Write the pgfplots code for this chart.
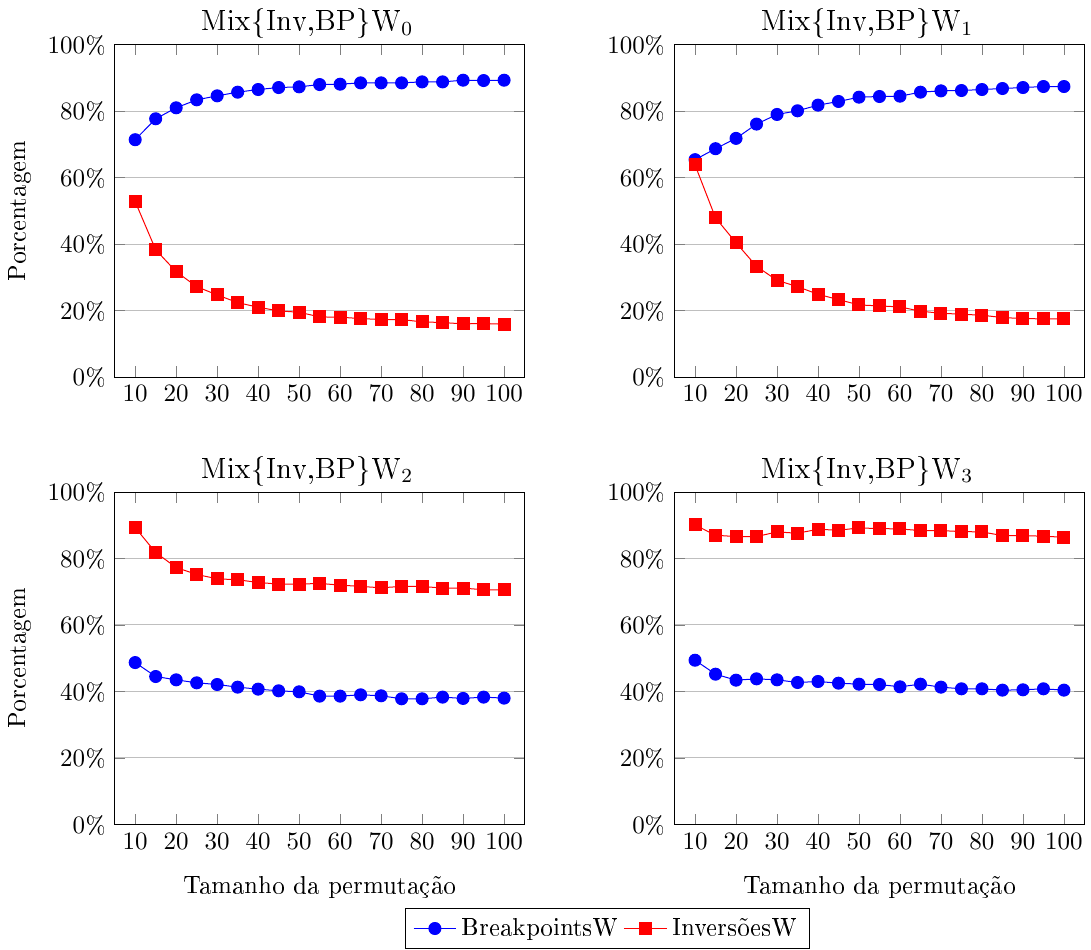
\documentclass[border=0pt]{standalone}
\usepackage[T1]{fontenc}
\usepackage{pgfplots}
\pgfplotsset{compat=1.18}
\usepgfplotslibrary{groupplots}

% x: tamanho da permutacao; b: BreakpointsW; i: InversoesW
\pgfplotstableread{
x  b    i
10 71.4 52.8
15 77.7 38.3
20 81.0 31.7
25 83.4 27.2
30 84.6 24.7
35 85.7 22.4
40 86.5 21.0
45 87.1 19.9
50 87.3 19.5
55 88.0 18.1
60 88.1 18.0
65 88.5 17.6
70 88.5 17.3
75 88.5 17.3
80 88.8 16.6
85 88.8 16.4
90 89.3 16.0
95 89.2 16.1
100 89.3 15.9
}\wzero
\pgfplotstableread{
x  b    i
10 65.4 63.8
15 68.7 47.9
20 71.8 40.4
25 76.1 33.3
30 79.0 29.1
35 80.1 27.2
40 81.8 24.9
45 82.9 23.3
50 84.2 21.7
55 84.4 21.4
60 84.5 21.1
65 85.7 19.8
70 86.1 19.2
75 86.2 18.9
80 86.5 18.6
85 86.8 17.9
90 87.1 17.6
95 87.4 17.5
100 87.4 17.5
}\wone
\pgfplotstableread{
x  b    i
10 48.7 89.3
15 44.5 81.8
20 43.5 77.3
25 42.6 75.2
30 42.1 73.9
35 41.3 73.6
40 40.7 72.8
45 40.2 72.3
50 39.9 72.3
55 38.6 72.5
60 38.6 72.0
65 39.0 71.6
70 38.7 71.2
75 37.8 71.6
80 37.8 71.6
85 38.3 71.1
90 37.9 71.1
95 38.3 70.6
100 38.0 70.6
}\wtwo
\pgfplotstableread{
x  b    i
10 49.4 90.1
15 45.2 87.0
20 43.4 86.6
25 43.8 86.6
30 43.5 88.0
35 42.7 87.6
40 43.0 88.8
45 42.5 88.5
50 42.2 89.2
55 42.1 89.0
60 41.4 88.9
65 42.2 88.4
70 41.3 88.4
75 40.8 88.1
80 40.8 88.0
85 40.4 86.9
90 40.5 86.9
95 40.8 86.7
100 40.4 86.4
}\wthree

\begin{document}
\begin{tikzpicture}
\begin{groupplot}[
  group style={group size=2 by 2, horizontal sep=60pt, vertical sep=46pt},
  scale only axis,
  width=164pt, height=133pt,
  xmin=5, xmax=105, ymin=0, ymax=100,
  xtick={10,20,...,100},
  ytick={0,20,...,100},
  yticklabel={\pgfmathprintnumber{\tick}\%},
  ymajorgrids=true,
  title style={font=\large, yshift=-7pt, xshift=-5pt},
  xlabel style={yshift=-4pt},
  cycle list={
    {blue, mark=*, mark size=2.4pt},
    {red, mark=square*, mark size=2.4pt}},
]
\nextgroupplot[title={Mix\{Inv,BP\}W$_0$}, ylabel={Porcentagem}]
\addplot table[x=x, y=b] {\wzero};
\addplot table[x=x, y=i] {\wzero};
\nextgroupplot[title={Mix\{Inv,BP\}W$_1$}]
\addplot table[x=x, y=b] {\wone};
\addplot table[x=x, y=i] {\wone};
\nextgroupplot[title={Mix\{Inv,BP\}W$_2$}, ylabel={Porcentagem}, xlabel={Tamanho da permutação}]
\addplot table[x=x, y=b] {\wtwo};
\addplot table[x=x, y=i] {\wtwo};
\nextgroupplot[title={Mix\{Inv,BP\}W$_3$}, xlabel={Tamanho da permutação},
  legend columns=2,
  legend style={at={(-0.163,-0.25)}, anchor=north}]
\addplot table[x=x, y=b] {\wthree};
\addplot table[x=x, y=i] {\wthree};
\legend{BreakpointsW, InversõesW}
\end{groupplot}
\end{tikzpicture}
\end{document}
